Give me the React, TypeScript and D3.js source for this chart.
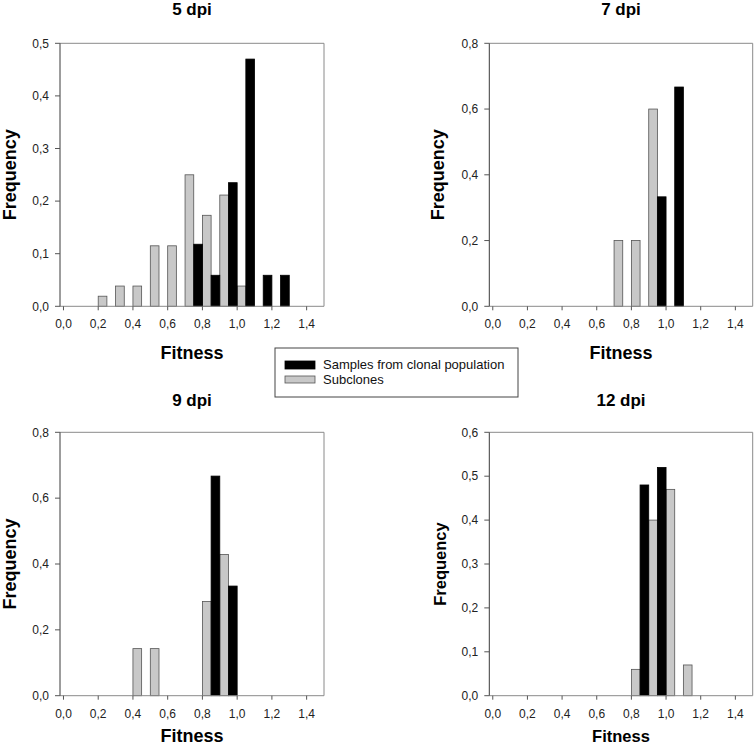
import React from "react";
import * as d3 from "d3";

// ---- Data ----
const binWidth = 0.05;

const sub5Bins = [0.2, 0.3, 0.4, 0.5, 0.6, 0.7, 0.8, 0.9, 1.0];
const sub5Vals = [0.0192, 0.0385, 0.0385, 0.115, 0.115, 0.25, 0.173, 0.2115, 0.0385];
const clo5Bins = [0.75, 0.85, 0.95, 1.05, 1.15, 1.25];
const clo5Vals = [0.118, 0.059, 0.235, 0.47, 0.059, 0.059];

const sub7Bins = [0.7, 0.8, 0.9];
const sub7Vals = [0.2, 0.2, 0.6];
const clo7Bins = [0.95, 1.05];
const clo7Vals = [0.333, 0.667];

const sub9Bins = [0.4, 0.5, 0.8, 0.9];
const sub9Vals = [0.143, 0.143, 0.286, 0.429];
const clo9Bins = [0.85, 0.95];
const clo9Vals = [0.667, 0.333];

const sub12Bins = [0.8, 0.9, 1.0, 1.1];
const sub12Vals = [0.06, 0.4, 0.47, 0.07];
const clo12Bins = [0.85, 0.95];
const clo12Vals = [0.48, 0.52];

const xTicks = [0, 0.2, 0.4, 0.6, 0.8, 1.0, 1.2, 1.4];
const yTicks5 = [0, 0.1, 0.2, 0.3, 0.4, 0.5];
const yTicks7 = [0, 0.2, 0.4, 0.6, 0.8];
const yTicks9 = [0, 0.2, 0.4, 0.6, 0.8];
const yTicks12 = [0, 0.1, 0.2, 0.3, 0.4, 0.5, 0.6];

const titles = ["5 dpi", "7 dpi", "9 dpi", "12 dpi"];
const legendLabels = ["Samples from clonal population", "Subclones"];

const FONT = "'Liberation Sans', Arial, sans-serif";
const GRAY_FILL = "#c8c8c8";
const GRAY_STROKE = "#555";

const fmt = (v: number) => d3.format(".1f")(v).replace(".", ",");

type PanelProps = {
  title: string;
  left: number;
  top: number;
  width: number;
  height: number;
  yMax: number;
  yTicks: number[];
  subBins: number[];
  subVals: number[];
  cloBins: number[];
  cloVals: number[];
  titleY: number;
  fitY: number;
  freqX: number;
  labelSize: number;
};

function Panel(p: PanelProps) {
  const x = d3.scaleLinear().domain([-0.02, 1.5]).range([p.left, p.left + p.width]);
  const y = d3.scaleLinear().domain([0, p.yMax]).range([p.top + p.height, p.top]);
  const bottom = p.top + p.height;
  const right = p.left + p.width;
  const cx = p.left + p.width / 2;
  const cy = p.top + p.height / 2;
  return (
    <g>
      <text x={cx} y={p.titleY} textAnchor="middle" fontFamily={FONT} fontWeight="bold" fontSize={17}>
        {p.title}
      </text>
      {/* frame */}
      <line x1={p.left} x2={right} y1={p.top} y2={p.top} stroke="#8a8a8a" strokeWidth={1} />
      <line x1={right} x2={right} y1={p.top} y2={bottom} stroke="#8a8a8a" strokeWidth={1} />
      {/* bars */}
      {p.subBins.map((b, i) => (
        <rect
          key={"s" + i}
          x={x(b)}
          y={y(p.subVals[i])}
          width={x(b + binWidth) - x(b)}
          height={y(0) - y(p.subVals[i])}
          fill={GRAY_FILL}
          stroke={GRAY_STROKE}
          strokeWidth={0.8}
        />
      ))}
      {p.cloBins.map((b, i) => (
        <rect
          key={"c" + i}
          x={x(b)}
          y={y(p.cloVals[i])}
          width={x(b + binWidth) - x(b)}
          height={y(0) - y(p.cloVals[i])}
          fill="#000"
          stroke="#000"
          strokeWidth={0.8}
        />
      ))}
      <line x1={p.left} x2={right} y1={bottom} y2={bottom} stroke="#8a8a8a" strokeWidth={1} />
      <line x1={p.left} x2={p.left} y1={p.top} y2={bottom} stroke="#3a3a3a" strokeWidth={1} />
      {/* x ticks */}
      {xTicks.map((t) => (
        <g key={"x" + t}>
          <line x1={x(t)} x2={x(t)} y1={bottom} y2={bottom + 4} stroke="#555" strokeWidth={1} />
          <text x={x(t)} y={bottom + 22} textAnchor="middle" fontFamily={FONT} fontSize={12} fill="#222">
            {fmt(t)}
          </text>
        </g>
      ))}
      {/* y ticks */}
      {p.yTicks.map((t) => (
        <g key={"y" + t}>
          <line x1={p.left - 5} x2={p.left} y1={y(t)} y2={y(t)} stroke="#555" strokeWidth={1} />
          <text x={p.left - 11} y={y(t)} dy="0.35em" textAnchor="end" fontFamily={FONT} fontSize={12} fill="#222">
            {fmt(t)}
          </text>
        </g>
      ))}
      <text x={cx} y={p.fitY} textAnchor="middle" fontFamily={FONT} fontWeight="bold" fontSize={p.labelSize}>
        Fitness
      </text>
      <text
        transform={`translate(${p.freqX},${cy}) rotate(-90)`}
        textAnchor="middle"
        fontFamily={FONT}
        fontWeight="bold"
        fontSize={p.labelSize}
      >
        Frequency
      </text>
    </g>
  );
}

export default function App() {
  const W = 755;
  const H = 751;
  const pw = 264;
  const ph = 263;
  return (
    <svg width={W} height={H} style={{ position: "absolute", left: 0, top: 0, background: "#fff" }}>
      <rect x={0} y={0} width={W} height={H} fill="#fff" />
      <Panel
        title={titles[0]} left={60} top={43.3} width={pw} height={ph} yMax={0.5} yTicks={yTicks5}
        subBins={sub5Bins} subVals={sub5Vals} cloBins={clo5Bins} cloVals={clo5Vals}
        titleY={15} fitY={359} freqX={16} labelSize={18}
      />
      <Panel
        title={titles[1]} left={489.3} top={43.3} width={263.4} height={ph} yMax={0.8} yTicks={yTicks7}
        subBins={sub7Bins} subVals={sub7Vals} cloBins={clo7Bins} cloVals={clo7Vals}
        titleY={15} fitY={359} freqX={444} labelSize={18}
      />
      <Panel
        title={titles[2]} left={60} top={432.3} width={pw} height={263.4} yMax={0.8} yTicks={yTicks9}
        subBins={sub9Bins} subVals={sub9Vals} cloBins={clo9Bins} cloVals={clo9Vals}
        titleY={406} fitY={742} freqX={16} labelSize={18}
      />
      <Panel
        title={titles[3]} left={489.3} top={432.3} width={263.4} height={263.4} yMax={0.6} yTicks={yTicks12}
        subBins={sub12Bins} subVals={sub12Vals} cloBins={clo12Bins} cloVals={clo12Vals}
        titleY={406} fitY={742} freqX={446} labelSize={16.5}
      />
      {/* legend */}
      <g>
        <rect x={275} y={348} width={243} height={49} fill="#fff" stroke="#444" strokeWidth={1} />
        <rect x={285} y={361} width={30} height={8} fill="#000" stroke="#000" strokeWidth={0.8} />
        <rect x={285} y={376} width={30} height={7} fill={GRAY_FILL} stroke={GRAY_STROKE} strokeWidth={0.8} />
        <text x={323} y={369} fontFamily={FONT} fontSize={13} fill="#111">{legendLabels[0]}</text>
        <text x={323} y={384} fontFamily={FONT} fontSize={13} fill="#111">{legendLabels[1]}</text>
      </g>
    </svg>
  );
}
